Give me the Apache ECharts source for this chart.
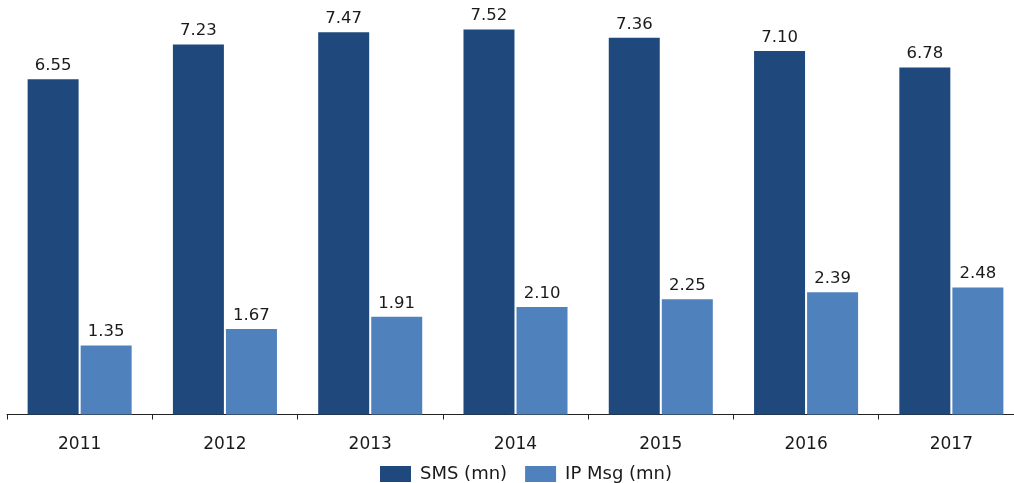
<!DOCTYPE html>
<html>
<head>
<meta charset="utf-8">
<script src="https://cdn.jsdelivr.net/npm/echarts@6/dist/echarts.min.js"></script>
<style>
  html, body { margin: 0; padding: 0; background: #fff; }
  #chart { width: 1014px; height: 483px; }
</style>
</head>
<body>
<div id="chart"></div>
<script>
// Yearly message volumes
const years = ['2011', '2012', '2013', '2014', '2015', '2016', '2017'];
const smsValues = [6.55, 7.23, 7.47, 7.52, 7.36, 7.10, 6.78];
const ipMsgValues = [1.35, 1.67, 1.91, 2.10, 2.25, 2.39, 2.48];
const seriesNames = ['SMS (mn)', 'IP Msg (mn)'];

const FONT = 'DejaVu Sans';

const chart = echarts.init(document.getElementById('chart'), null, { renderer: 'canvas' });

const valueLabel = {
  show: true,
  position: 'top',
  distance: 5,
  color: '#1a1a1a',
  fontFamily: FONT,
  fontSize: 16.5,
  formatter: p => p.value.toFixed(2)
};

chart.setOption({
  animation: false,
  // the last category band runs past the right edge of the canvas
  grid: {
    left: 7, width: 1017, top: 5, bottom: 68.5,
    containLabel: false,
    outerBoundsMode: 'none'
  },
  legend: {
    top: 465,
    left: 380,
    padding: 0,
    itemWidth: 31,
    itemHeight: 16,
    itemGap: 18,
    icon: 'rect',
    textStyle: { fontFamily: FONT, fontSize: 18, color: '#1a1a1a', padding: [0, 0, 0, 4] },
    data: seriesNames
  },
  xAxis: {
    type: 'category',
    data: years,
    axisLine: { show: true, lineStyle: { color: '#222', width: 1 } },
    axisTick: { show: true, length: 5, lineStyle: { color: '#222' } },
    axisLabel: { margin: 22, fontFamily: FONT, fontSize: 17, color: '#1a1a1a' }
  },
  yAxis: {
    type: 'value',
    min: 0,
    max: 8,
    show: false,
    splitLine: { show: false }
  },
  series: [
    {
      name: seriesNames[0],
      type: 'bar',
      data: smsValues,
      barWidth: 51,
      barGap: '4%',
      itemStyle: { color: '#1f497d' },
      label: valueLabel
    },
    {
      name: seriesNames[1],
      type: 'bar',
      data: ipMsgValues,
      barWidth: 51,
      itemStyle: { color: '#4f81bd' },
      label: valueLabel
    }
  ]
});
</script>
</body>
</html>
